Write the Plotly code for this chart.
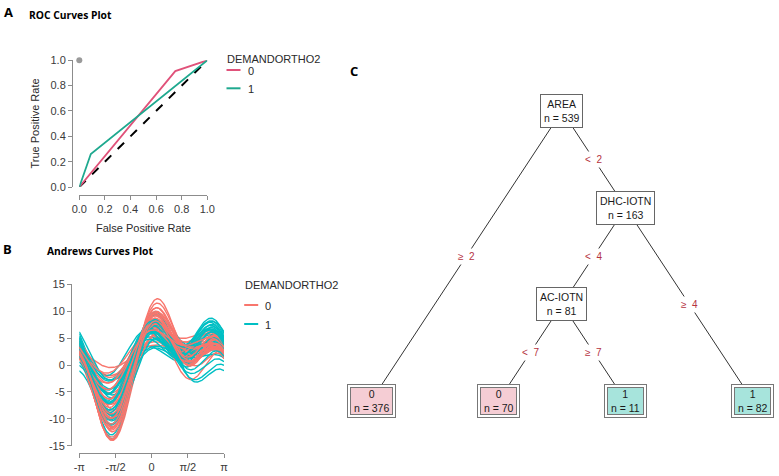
import numpy as np
import plotly.graph_objects as go

W, H = 779, 476


def px(x):
    return x / W


def py(y):
    return 1 - y / H


FONT = "Liberation Sans, Arial, Helvetica, sans-serif"
TITLE_FONT = "Open Sans, Liberation Sans, sans-serif"
NB = "\u00a0"

# ---------------- Panel A : ROC data ----------------
roc_classes = ["0", "1"]
roc_fpr_0 = [0.0, 0.75, 1.0]
roc_tpr_0 = [0.0, 0.915, 1.0]
roc_fpr_1 = [0.0, 0.09, 1.0]
roc_tpr_1 = [0.0, 0.26, 1.0]
chance_fpr = [0.0, 1.0]
chance_tpr = [0.0, 1.0]
perfect_fpr = [0.0]
perfect_tpr = [1.0]
roc_ticks = [0.0, 0.2, 0.4, 0.6, 0.8, 1.0]

# ---------------- Panel B : Andrews curves data ----------------
# each row = one observation (v1..v5); curve f(t)=v1/sqrt2 + v2 sin t + v3 cos t + v4 sin2t + v5 cos2t
andrews_class0 = [
    [1.3, 4.5, 1.75, -0.9, 3.4],
    [-1.0, 7.0, 2.5, -1.0, 6.0],
    [0.0, 7.0, 4.0, -0.5, 6.0],
    [1.0, 6.5, 4.5, 0.0, 5.5],
    [2.5, 2.0, 1.0, -0.5, 1.5],
    [3.0, 1.5, 0.5, -0.3, 1.0],
    [0.5, 5.5, 2.0, -1.5, 4.5],
    [2.0, 5.0, 3.0, -1.2, 3.0],
    [4.0, 4.0, 2.0, -1.5, 2.5],
    [5.0, 3.5, 1.0, -1.0, 2.0],
    [-0.5, 6.0, 3.5, -0.8, 5.0],
    [0.5, 6.5, 5.0, 0.5, 6.0],
    [1.5, 3.5, 1.5, -0.7, 2.5],
    [3.5, 3.0, 2.5, -1.0, 2.0],
    [2.0, 6.0, 3.0, -1.5, 4.5],
    [1.0, 5.0, 0.5, -0.5, 4.0],
    [-1.5, 3.5, 1.5, 0.3, 5.0],
    [4.5, 2.5, 2.0, -0.8, 1.5],
    [1.8, 5.5, 4.0, -0.5, 4.0],
    [-0.3, 6.8, 3.0, -1.2, 6.5],
    [2.8, 4.5, 1.5, -1.8, 3.0],
    [0.8, 5.0, 2.2, -1.0, 5.0],
    [0.2, 6.2, 3.8, -0.6, 5.6],
    [-0.8, 6.6, 3.2, -0.9, 6.2],
    [1.6, 5.8, 4.2, -0.4, 4.8],
    [2.4, 4.2, 2.6, -1.1, 3.2],
    [3.2, 3.6, 3.0, -0.9, 2.4],
    [0.4, 4.8, 2.8, -0.6, 4.2],
    [1.1, 6.0, 2.4, -1.3, 5.3],
    [2.6, 5.2, 3.6, -1.0, 3.8],
    [-0.2, 5.6, 2.6, -0.8, 5.4],
    [3.8, 3.2, 1.6, -1.2, 2.2],
]
andrews_class1 = [
    [3.0, 3.0, 0.5, -2.5, 3.5],
    [4.0, 3.5, 0.0, -3.0, 3.0],
    [1.0, 5.0, 1.0, -2.0, 4.5],
    [0.0, 6.5, 3.5, -1.0, 6.0],
    [-1.5, 4.0, 5.0, 0.5, 5.0],
    [2.0, 2.0, 0.0, -1.5, 2.0],
    [5.0, 2.5, 1.0, -2.0, 2.0],
    [2.5, 5.5, 2.5, -1.5, 4.0],
    [1.5, 4.0, 0.5, -1.0, 3.0],
    [-0.5, 6.5, 2.0, -1.5, 6.5],
    [3.5, 4.5, 1.5, -2.5, 3.5],
    [2.0, 3.0, 2.0, -0.5, 2.5],
    [0.5, 5.0, 3.0, -1.0, 5.0],
    [4.5, 3.0, -0.5, -2.0, 2.5],
    [1.2, 2.0, 1.0, -0.3, 1.5],
    [0.0, 5.5, 1.5, -1.8, 5.0],
    [3.0, 5.0, 3.5, -1.0, 3.5],
    [-2.0, 4.0, 2.0, 0.0, 4.0],
    [2.2, 6.0, 2.0, -2.2, 4.5],
    [0.8, 3.5, 0.0, -1.0, 2.5],
    [-1.5, 3.5, 3.5, 0.5, 4.5],
    [4.0, 4.0, 1.0, -2.8, 3.0],
    [2.8, 4.2, 0.8, -2.6, 3.8],
    [1.4, 4.6, 1.2, -2.2, 4.0],
    [3.6, 3.8, 0.4, -2.9, 3.2],
    [0.6, 5.8, 2.6, -1.6, 5.2],
    [2.4, 3.4, 0.2, -2.4, 2.8],
    [1.8, 5.2, 1.8, -2.0, 4.2],
    [-0.8, 5.0, 3.0, -0.5, 5.2],
    [3.3, 4.8, 2.2, -2.1, 3.6],
]
andrews_y_ticks = [-15, -10, -5, 0, 5, 10, 15]
andrews_x_ticks = [-np.pi, -np.pi / 2, 0, np.pi / 2, np.pi]
andrews_x_ticktext = ["-π", "-π/2", "0", "π/2", "π"]

# ---------------- Panel C : decision tree data ----------------
node_var = ["AREA", "0", "DHC-IOTN", "AC-IOTN", "0", "1", "1"]
node_n = [539, 376, 163, 81, 70, 11, 82]
node_parent = [None, 0, 0, 2, 3, 3, 2]
edge_label = [None, "≥  2", "<  2", "<  4", "<  7", "≥  7", "≥  4"]

# ---------------- colours ----------------
ROC_COL = {"0": "#E0527A", "1": "#1FA98F"}
AND_COL = {"0": "#F8766D", "1": "#00BFC4"}
LEAF_FILL = {"0": "#F5CDD4", "1": "#A7E4DC"}
AXIS_COL = "#8c8c8c"
TICK_FONT = dict(family=FONT, size=11, color="#3a3a3a")

fig = go.Figure()

# ---- Panel A traces
fig.add_trace(go.Scatter(x=chance_fpr, y=chance_tpr, mode="lines",
                         line=dict(color="black", width=2, dash="dash"),
                         xaxis="x", yaxis="y", showlegend=False, hoverinfo="skip"))
fig.add_trace(go.Scatter(x=roc_fpr_0, y=roc_tpr_0, mode="lines",
                         line=dict(color=ROC_COL["0"], width=1.8),
                         xaxis="x", yaxis="y", showlegend=False, name="0"))
fig.add_trace(go.Scatter(x=roc_fpr_1, y=roc_tpr_1, mode="lines",
                         line=dict(color=ROC_COL["1"], width=1.8),
                         xaxis="x", yaxis="y", showlegend=False, name="1"))
fig.add_trace(go.Scatter(x=perfect_fpr, y=perfect_tpr, mode="markers",
                         marker=dict(color="#9a9a9a", size=6), cliponaxis=False,
                         xaxis="x", yaxis="y", showlegend=False))

# ---- Panel B traces (Andrews transform)
t = np.linspace(-np.pi, np.pi, 241)


def andrews(v):
    return (v[0] / np.sqrt(2) + v[1] * np.sin(t) + v[2] * np.cos(t)
            + v[3] * np.sin(2 * t) + v[4] * np.cos(2 * t))


n_pairs = max(len(andrews_class0), len(andrews_class1))
for k in range(n_pairs):
    for rows, cls in ((andrews_class1, "1"), (andrews_class0, "0")):
        if k < len(rows):
            fig.add_trace(go.Scatter(x=t, y=andrews(rows[k]), mode="lines",
                                     line=dict(color=AND_COL[cls], width=1.4),
                                     xaxis="x2", yaxis="y2", showlegend=False,
                                     hoverinfo="skip"))

# ---- Panel C tree layout (derived from structure)
nn = len(node_var)
children = [[j for j in range(nn) if node_parent[j] == i] for i in range(nn)]
depth = []
for i in range(nn):
    d, p = 0, node_parent[i]
    while p is not None:
        d += 1
        p = node_parent[p]
    depth.append(d)
leaves = [i for i in range(nn) if not children[i]]
max_depth = max(depth)
node_x = [0.0] * nn
node_y = [0.0] * nn


def leaves_under(i):
    if not children[i]:
        return [i]
    out = []
    for c in children[i]:
        out += leaves_under(c)
    return out


for k, lf in enumerate(leaves):
    node_x[lf] = k
for i in range(nn):
    if children[i]:
        lv = leaves_under(i)
        node_x[i] = float(np.mean([node_x[l] for l in lv]))
        node_y[i] = depth[i]
    else:
        node_y[i] = max_depth

for i in range(nn):
    p = node_parent[i]
    if p is None:
        continue
    fig.add_trace(go.Scatter(x=[node_x[p], node_x[i]], y=[node_y[p], node_y[i]],
                             mode="lines", line=dict(color="#333333", width=1),
                             xaxis="x3", yaxis="y3", showlegend=False,
                             hoverinfo="skip"))

annotations = []
NODE_FONT = dict(family=FONT, size=10.5, color="#1a1a1a")
for i in range(nn):
    if children[i]:
        txt = f"{node_var[i]}<br>n = {node_n[i]}"
        annotations.append(dict(x=node_x[i], y=node_y[i], xref="x3", yref="y3",
                                text=txt, showarrow=False, font=NODE_FONT,
                                bgcolor="white", bordercolor="#666666",
                                borderwidth=1, borderpad=3))
    else:
        txt = f"{NB}{node_var[i]}{NB}<br>{NB}n = {node_n[i]}{NB}"
        annotations.append(dict(x=node_x[i], y=node_y[i], xref="x3", yref="y3",
                                text=txt, showarrow=False,
                                font=dict(family=FONT, size=10.5, color="rgba(0,0,0,0)"),
                                bgcolor="white", bordercolor="#777777",
                                borderwidth=1, borderpad=3))
        annotations.append(dict(x=node_x[i], y=node_y[i], xref="x3", yref="y3",
                                text=txt, showarrow=False, font=NODE_FONT,
                                bgcolor=LEAF_FILL[node_var[i]], bordercolor="#777777",
                                borderwidth=1, borderpad=0))
for i in range(nn):
    p = node_parent[i]
    if p is None:
        continue
    annotations.append(dict(x=(node_x[p] + node_x[i]) / 2, y=(node_y[p] + node_y[i]) / 2,
                            xref="x3", yref="y3", text=edge_label[i], showarrow=False,
                            font=dict(family=FONT, size=10, color="#B5333F"),
                            bgcolor="white", borderpad=2))


# ---- panel labels and titles
def ann(x, y, text, size, color="black", family=FONT, xanchor="center", angle=0):
    return dict(x=px(x), y=py(y), xref="paper", yref="paper", text=text,
                showarrow=False, xanchor=xanchor, yanchor="middle",
                font=dict(family=family, size=size, color=color), textangle=angle)


annotations += [
    ann(8.5, 11.5, "<b>A</b>", 13, family=TITLE_FONT),
    ann(26.5, 15, "<b>ROC Curves Plot</b>", 10.3, family=TITLE_FONT, xanchor="left"),
    ann(7.5, 248.5, "<b>B</b>", 13, family=TITLE_FONT),
    ann(44.5, 250.5, "<b>Andrews Curves Plot</b>", 10.3, family=TITLE_FONT, xanchor="left"),
    ann(353.5, 71, "<b>C</b>", 13, family=TITLE_FONT),
    ann(143.3, 228.3, "False Positive Rate", 11, color="#2a2a2a"),
    ann(35, 123.5, "True Positive Rate", 11, color="#2a2a2a", angle=-90),
]

# ---- custom legends
shapes = []


def legend(x0, ytitle, yitems, cols):
    annotations.append(ann(x0, ytitle, "DEMANDORTHO2", 11, color="#2a2a2a", xanchor="left"))
    for (lab, yy) in zip(roc_classes, yitems):
        shapes.append(dict(type="line", xref="paper", yref="paper",
                           x0=px(x0 + 1.5), x1=px(x0 + 15.5), y0=py(yy), y1=py(yy),
                           line=dict(color=cols[lab], width=2)))
        annotations.append(ann(x0 + 20.5, yy + 0.5, lab, 11, color="#2a2a2a", xanchor="left"))


legend(225, 58.5, [70, 88.3], ROC_COL)
legend(242.7, 285, [305, 324], AND_COL)

axis_common = dict(showgrid=False, zeroline=False, showline=True, linecolor=AXIS_COL,
                   linewidth=1, ticks="outside", ticklen=4, tickcolor=AXIS_COL,
                   tickwidth=1, tickfont=TICK_FONT, anchor="free", automargin=False)

fig.update_layout(
    width=W, height=H, margin=dict(l=0, r=0, t=0, b=0, pad=0, autoexpand=False),
    paper_bgcolor="white", plot_bgcolor="rgba(0,0,0,0)",
    showlegend=False,
    xaxis=dict(axis_common, domain=[px(79.3), px(207.3)], range=[0, 1],
               position=py(195), tickvals=roc_ticks,
               ticktext=[f"{v:.1f}" for v in roc_ticks]),
    yaxis=dict(axis_common, domain=[py(187), py(60.3)], range=[0, 1],
               position=px(72), tickvals=roc_ticks,
               ticktext=[f"{v:.1f}" for v in roc_ticks]),
    xaxis2=dict(axis_common, domain=[px(79.3), px(224)], range=[-np.pi, np.pi],
                position=py(453), tickvals=andrews_x_ticks, ticktext=andrews_x_ticktext),
    yaxis2=dict(axis_common, domain=[py(445.7), py(284.3)], range=[-15, 15],
                position=px(71), tickvals=andrews_y_ticks,
                ticktext=[str(v) for v in andrews_y_ticks]),
    xaxis3=dict(visible=False, domain=[px(340), 1.0], automargin=False,
                range=[(340 - 371) / 127.33, (779 - 371) / 127.33], anchor="y3"),
    yaxis3=dict(visible=False, domain=[py(440), py(60)], automargin=False,
                range=[(440 - 111) / 96.67, (60 - 111) / 96.67], anchor="x3"),
    annotations=annotations,
    shapes=shapes,
)

fig.write_html("out.html")
